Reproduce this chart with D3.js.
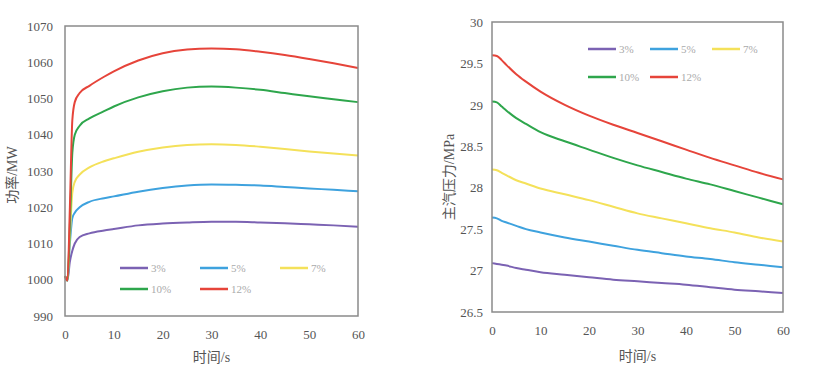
<!DOCTYPE html>
<html>
<head>
<meta charset="utf-8">
<script src="https://cdn.jsdelivr.net/npm/d3@7"></script>
<style>
  body { margin: 0; background: #fff; }
  text { font-family: "Liberation Serif", "Noto Sans CJK SC", serif; }
</style>
</head>
<body>
<div id="vis"></div>
<script>
// ==== DATA ====
const seriesNames = ["3%", "5%", "7%", "10%", "12%"];
const seriesColors = ["#7b62b3", "#3ea2de", "#f4e15a", "#2ea64c", "#e6443a"];

// left chart: power (MW) vs time (s)
const powerTime = [0, 0.5, 1, 1.5, 2, 3, 5, 8, 10, 15, 20, 25, 30, 35, 40, 45, 50, 55, 60];
const power3  = [1001, 999.8, 1005, 1008, 1010, 1011.8, 1012.8, 1013.6, 1014, 1015, 1015.5, 1015.8, 1016, 1016, 1015.8, 1015.6, 1015.3, 1015, 1014.6];
const power5  = [1001, 999.8, 1010, 1017, 1018.5, 1020, 1021.5, 1022.5, 1023, 1024.3, 1025.3, 1026, 1026.3, 1026.2, 1026, 1025.6, 1025.2, 1024.8, 1024.4];
const power7  = [1001, 999.8, 1012, 1024, 1027, 1029, 1031, 1032.7, 1033.5, 1035.3, 1036.5, 1037.2, 1037.4, 1037.2, 1036.7, 1036.1, 1035.4, 1034.8, 1034.3];
const power10 = [1001, 999.8, 1015, 1035, 1040, 1042.5, 1044.5, 1046.5, 1047.8, 1050.3, 1052, 1053, 1053.3, 1053, 1052.4, 1051.5, 1050.6, 1049.8, 1049];
const power12 = [1001, 999.8, 1020, 1044, 1049, 1051.5, 1053.5, 1056, 1057.5, 1060.5, 1062.5, 1063.5, 1063.8, 1063.6, 1062.9, 1062, 1060.9, 1059.7, 1058.4];

// right chart: main steam pressure (MPa) vs time (s)
const pressTime = [0, 1, 2, 3, 5, 7, 10, 15, 20, 25, 30, 35, 40, 45, 50, 55, 60];
const press3  = [27.09, 27.08, 27.07, 27.06, 27.03, 27.01, 26.98, 26.95, 26.92, 26.89, 26.87, 26.85, 26.83, 26.8, 26.77, 26.75, 26.73];
const press5  = [27.64, 27.63, 27.6, 27.58, 27.54, 27.5, 27.46, 27.4, 27.35, 27.3, 27.25, 27.21, 27.17, 27.14, 27.1, 27.07, 27.04];
const press7  = [28.22, 28.21, 28.18, 28.15, 28.09, 28.05, 27.99, 27.92, 27.85, 27.77, 27.69, 27.63, 27.57, 27.51, 27.46, 27.4, 27.35];
const press10 = [29.04, 29.03, 28.98, 28.93, 28.84, 28.77, 28.67, 28.56, 28.46, 28.36, 28.27, 28.19, 28.11, 28.04, 27.96, 27.88, 27.8];
const press12 = [29.6, 29.59, 29.54, 29.48, 29.37, 29.28, 29.16, 29.0, 28.87, 28.76, 28.66, 28.56, 28.46, 28.36, 28.27, 28.18, 28.1];

const xTicks = [0, 10, 20, 30, 40, 50, 60];
const powerTicks = [990, 1000, 1010, 1020, 1030, 1040, 1050, 1060, 1070];
const pressTicks = [26.5, 27, 27.5, 28, 28.5, 29, 29.5, 30];

const width = 821, height = 373;
const svg = d3.select("#vis").append("svg")
  .attr("width", width).attr("height", height);

// ==== DRAW ONE PANEL ====
function drawPanel(opt) {
  const x = d3.scaleLinear().domain([0, 60]).range([opt.left, opt.right]);
  const y = d3.scaleLinear().domain(opt.yDomain).range([opt.bottom, opt.top]);
  const g = svg.append("g");

  // lines
  const line = d3.line()
    .x(d => x(d[0])).y(d => y(d[1]))
    .curve(d3.curveMonotoneX);
  opt.series.forEach((vals, i) => {
    g.append("path")
      .datum(opt.time.map((t, j) => [t, vals[j]]))
      .attr("fill", "none")
      .attr("stroke", seriesColors[i])
      .attr("stroke-width", 2)
      .attr("d", line);
  });

  // frame
  g.append("rect")
    .attr("x", opt.left).attr("y", opt.top)
    .attr("width", opt.right - opt.left).attr("height", opt.bottom - opt.top)
    .attr("fill", "none").attr("stroke", "#8a8a8a").attr("stroke-width", 1.5);

  // axes
  const xAxis = g.append("g")
    .attr("transform", `translate(0,${opt.bottom})`)
    .call(d3.axisBottom(x).tickValues(xTicks).tickSize(0).tickPadding(opt.xPad));
  const yAxis = g.append("g")
    .attr("transform", `translate(${opt.left},0)`)
    .call(d3.axisLeft(y).tickValues(opt.yTicks).tickSize(0).tickPadding(opt.yPad)
      .tickFormat(d3.format("")));
  [xAxis, yAxis].forEach(a => {
    a.attr("font-family", "Liberation Serif");
    a.select(".domain").remove();
    a.selectAll("text").attr("fill", "#555").style("font-size", "13px")
      .style("font-family", "'Liberation Serif', serif");
  });

  // axis titles
  g.append("text")
    .attr("x", (opt.left + opt.right) / 2).attr("y", opt.xTitleY)
    .attr("text-anchor", "middle").attr("fill", "#555")
    .style("font-size", "14px")
    .text("时间/s");
  g.append("text")
    .attr("transform", `translate(${opt.yTitleX},${opt.yTitleY}) rotate(-90)`)
    .attr("text-anchor", "middle").attr("fill", "#555")
    .style("font-size", "14px")
    .text(opt.yTitle);

  // legend
  seriesNames.forEach((name, i) => {
    const row = i < 3 ? 0 : 1, col = i < 3 ? i : i - 3;
    const lx = opt.legX + col * opt.legDx, ly = opt.legY + row * opt.legDy;
    g.append("line")
      .attr("x1", lx).attr("x2", lx + 28).attr("y1", ly).attr("y2", ly)
      .attr("stroke", seriesColors[i]).attr("stroke-width", 2.5);
    g.append("text")
      .attr("x", lx + 31).attr("y", ly + 4)
      .attr("fill", "#aaa").style("font-size", "11px")
      .text(name);
  });
}

drawPanel({
  left: 65, right: 358, top: 26, bottom: 316,
  yDomain: [990, 1070], yTicks: powerTicks, yPad: 12, xPad: 14,
  time: powerTime, series: [power3, power5, power7, power10, power12],
  xTitleY: 362, yTitle: "功率/MW", yTitleX: 17, yTitleY: 175,
  legX: 120, legY: 268, legDx: 80, legDy: 21
});

drawPanel({
  left: 492, right: 783, top: 22, bottom: 312,
  yDomain: [26.5, 30], yTicks: pressTicks, yPad: 9, xPad: 14,
  time: pressTime, series: [press3, press5, press7, press10, press12],
  xTitleY: 361, yTitle: "主汽压力/MPa", yTitleX: 454, yTitleY: 177,
  legX: 588, legY: 49, legDx: 62, legDy: 28
});
</script>
</body>
</html>
